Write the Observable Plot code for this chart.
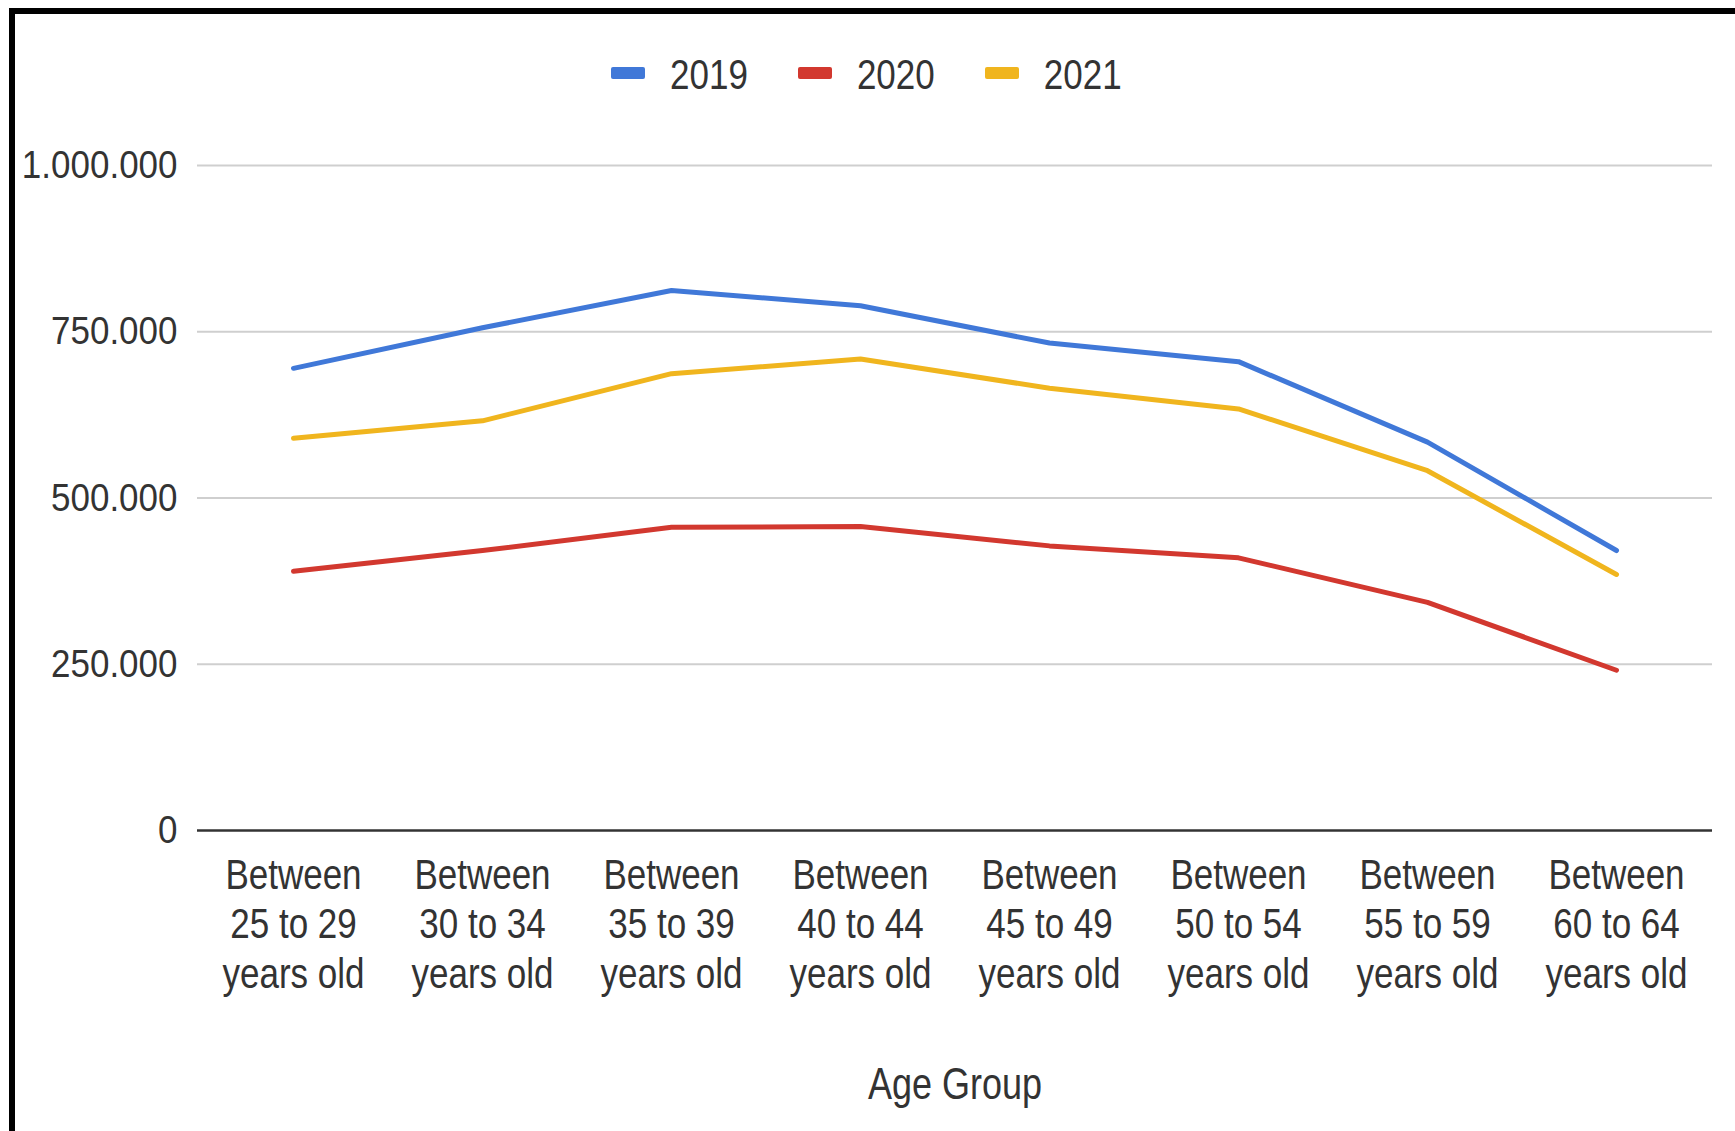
<!DOCTYPE html>
<html>
<head>
<meta charset="utf-8">
<script src="https://cdn.jsdelivr.net/npm/d3@7"></script>
<script src="https://cdn.jsdelivr.net/npm/@observablehq/plot@0.6"></script>
<style>
  html, body { margin: 0; padding: 0; background: #fff; overflow: hidden; }
  body { width: 1735px; height: 1131px; position: relative; font-family: "Liberation Sans", Arial, sans-serif; color: #333; }
  #frame { position: absolute; left: 9px; top: 8px; width: 1800px; height: 1300px; border: 6px solid #000; box-sizing: border-box; pointer-events: none; z-index: 2; }
  #legend { position: relative; height: 120px; }
  #legend .row { position: absolute; left: 611px; top: 0; height: 146px; display: flex; align-items: center; gap: 50px; }
  #legend .item { display: flex; align-items: center; }
  #legend .sw { width: 34px; height: 12px; border-radius: 2px; margin-right: 25px; }
  #legend .lab { display: inline-block; font-size: 35px; line-height: 1; transform: scaleY(1.2); color: #333; }
  #chart svg { display: block; }
</style>
</head>
<body>
<div id="frame"></div>
<div id="legend"><div class="row"></div></div>
<div id="chart"></div>
<script>
// ---- data ----
const ageGroups = [
  "Between 25 to 29 years old",
  "Between 30 to 34 years old",
  "Between 35 to 39 years old",
  "Between 40 to 44 years old",
  "Between 45 to 49 years old",
  "Between 50 to 54 years old",
  "Between 55 to 59 years old",
  "Between 60 to 64 years old"
];
const years = ["2019", "2020", "2021"];
const values2019 = [695000, 756000, 812000, 789000, 733000, 705000, 584000, 421000];
const values2020 = [390000, 421000, 456000, 457000, 428000, 410000, 343000, 241000];
const values2021 = [590000, 616000, 687000, 709000, 665000, 634000, 541000, 385000];
const yTicks = [0, 250000, 500000, 750000, 1000000];
const colors = ["#4078d8", "#d2382f", "#f0b51e"];
const xAxisLabel = "Age Group";

// ---- table ----
const series = [values2019, values2020, values2021];
const data = years.flatMap((yr, s) => ageGroups.map((g, i) => ({age: g, year: yr, value: series[s][i]})));

// ---- legend ----
const row = document.querySelector("#legend .row");
years.forEach((yr, i) => {
  const item = document.createElement("div");
  item.className = "item";
  const sw = document.createElement("span");
  sw.className = "sw";
  sw.style.background = colors[i];
  const lab = document.createElement("span");
  lab.className = "lab";
  lab.textContent = yr;
  item.append(sw, lab);
  row.append(item);
});

const fmtY = d => d3.format(",")(d).replace(/,/g, ".");
const wrap = d => d.replace(/^(\S+) (\d+ to \d+) /, "$1\n$2\n");

const chart = Plot.plot({
  width: 1735,
  height: 1011,
  marginLeft: 197,
  marginRight: 23,
  marginTop: 45,
  marginBottom: 301,
  style: {fontFamily: '"Liberation Sans", Arial, sans-serif', fontSize: "34px", color: "#333", background: "white", overflow: "visible"},
  x: {domain: ageGroups, label: null, padding: 0.5},
  y: {domain: [0, 1000000], label: null},
  color: {domain: years, range: colors},
  marks: [
    Plot.gridY(yTicks.filter(d => d > 0), {stroke: "#cfcfcf", strokeOpacity: 1, strokeWidth: 2}),
    Plot.ruleY([0], {stroke: "#333", strokeWidth: 2.5}),
    Plot.axisY(yTicks, {tickSize: 0, tickPadding: 20, tickFormat: fmtY, fontSize: 35}),
    Plot.axisX({tickSize: 0, tickPadding: 23, tickFormat: wrap, lineHeight: 1.15, fontSize: 35}),
    Plot.line(data, {x: "age", y: "value", stroke: "year", strokeWidth: 5, strokeLinejoin: "round"}),
    Plot.text([xAxisLabel], {frameAnchor: "bottom", dy: 254, text: d => d, fontSize: 36, lineAnchor: "middle"})
  ]
});

chart.querySelectorAll("text").forEach(t => {
  const g = t.closest("g");
  const lab = g ? g.getAttribute("aria-label") || "" : "";
  const s = lab.startsWith("y-axis") ? 1.12 : 1.23;
  t.setAttribute("transform", (t.getAttribute("transform") || "") + ` scale(1,${s})`);
});

document.getElementById("chart").append(chart);
</script>
</body>
</html>
